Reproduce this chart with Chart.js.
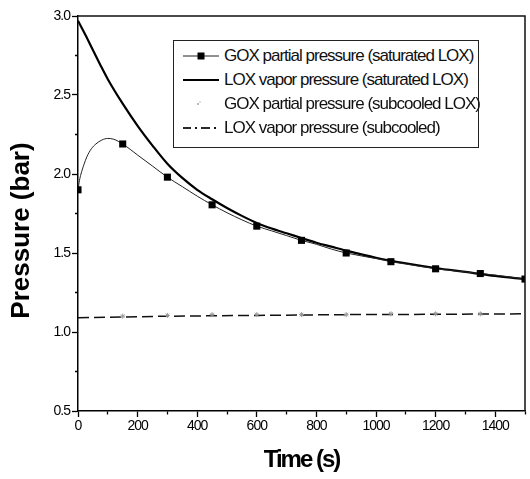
<!DOCTYPE html>
<html><head><meta charset="utf-8">
<script src="https://cdn.jsdelivr.net/npm/chart.js@4/dist/chart.umd.min.js"></script>
<style>
html,body{margin:0;padding:0;background:#fff;}
#wrap{position:relative;width:530px;height:479px;}
#c{position:absolute;left:0;top:0;}
#legend{position:absolute;left:173px;top:40px;width:306px;height:108px;border:1px solid #222;box-sizing:border-box;background:#fff;
 font-family:'Liberation Sans',Arial,sans-serif;font-size:17px;letter-spacing:-1px;color:#111;}
.row{position:absolute;left:0;height:24px;width:300px;}
.row svg{position:absolute;left:8px;top:0;}
.row span{position:absolute;left:50px;top:2px;white-space:nowrap;line-height:20px;}
</style>
</head><body>
<div id="wrap">
<canvas id="c" width="530" height="479"></canvas>
<div id="legend"></div>
</div>
<script>
// ---- data ----
const loxSatTime = [0,25,50,75,100,150,200,250,300,350,400,450,500,550,600,650,700,750,800,850,900,1000,1100,1200,1300,1400,1500];
const loxSat     = [2.97,2.88,2.785,2.69,2.60,2.445,2.305,2.18,2.065,1.975,1.90,1.84,1.785,1.735,1.69,1.655,1.625,1.595,1.565,1.54,1.515,1.47,1.435,1.405,1.38,1.355,1.335];
const goxSatTime = [0,5,10,20,30,45,60,80,100,120,150,200,250,300,350,400,450,500,550,600,650,700,750,800,850,900,1000,1050,1100,1200,1300,1350,1400,1500];
const goxSat     = [1.90,1.96,2.00,2.06,2.11,2.16,2.19,2.215,2.225,2.22,2.19,2.12,2.05,1.98,1.92,1.86,1.805,1.755,1.71,1.67,1.64,1.61,1.58,1.555,1.525,1.50,1.465,1.445,1.43,1.40,1.38,1.37,1.36,1.335];
const goxMarkerTimes = [0,150,300,450,600,750,900,1050,1200,1350,1500];
const goxSubTime = [150,300,450,600,750,900,1050,1200,1350];
const goxSub     = [1.10,1.105,1.11,1.11,1.11,1.11,1.115,1.115,1.115];
const loxSubTime = [0,300,600,900,1200,1500];
const loxSub     = [1.09,1.10,1.105,1.11,1.112,1.115];
const seriesNames = ['GOX partial pressure (saturated LOX)','LOX vapor pressure (saturated LOX)','GOX partial pressure (subcooled LOX)','LOX vapor pressure (subcooled)'];
const xTickLabels = [0,200,400,600,800,1000,1200,1400];
const yTickLabels = [0.5,1.0,1.5,2.0,2.5,3.0];

const xy = (t, v) => t.map((x, i) => ({x, y: v[i]}));
const FONT = "'Liberation Sans',Arial,sans-serif";

const framePlugin = {
  id: 'frame',
  beforeDraw(chart) {
    chart.ctx.letterSpacing = '-1px';
    Object.values(chart.scales).forEach(s => {
      if (s._patchedTitle) return;
      const orig = s.drawTitle.bind(s);
      s.drawTitle = function () {
        const c = this.ctx, prev = c.letterSpacing;
        c.save();
        if (this.axis === 'x') { c.letterSpacing = '-2px'; }
        else { c.letterSpacing = '0px'; c.translate(0, 17); }
        orig();
        c.restore();
        c.letterSpacing = prev;
      };
      s._patchedTitle = true;
    });
  },
  afterDraw(chart) {
    const {ctx, chartArea: a} = chart;
    ctx.save();
    ctx.strokeStyle = '#111';
    ctx.lineWidth = 1.5;
    ctx.beginPath();
    ctx.moveTo(a.left, a.top); ctx.lineTo(a.right, a.top); ctx.lineTo(a.right, a.bottom);
    ctx.stroke();
    ctx.restore();
  }
};

const isMajorX = v => xTickLabels.some(t => Math.abs(t - v) < 1e-6);
const isMajorY = v => yTickLabels.some(t => Math.abs(t - v) < 1e-6);

new Chart(document.getElementById('c'), {
  type: 'line',
  data: {
    datasets: [
      {label: seriesNames[0], data: xy(goxSatTime, goxSat), borderColor: '#222', borderWidth: 1,
       cubicInterpolationMode: 'monotone', pointStyle: 'rect',
       pointRadius: c => (c.raw && goxMarkerTimes.includes(c.raw.x)) ? 5 : 0,
       pointBackgroundColor: '#000', pointBorderColor: '#000', pointBorderWidth: 0},
      {label: seriesNames[1], data: xy(loxSatTime, loxSat), borderColor: '#000', borderWidth: 2.2,
       cubicInterpolationMode: 'monotone', pointRadius: 0},
      {label: seriesNames[2], data: xy(goxSubTime, goxSub), showLine: false, pointStyle: 'star',
       pointRadius: 2.5, borderColor: '#999', pointBorderColor: '#999', pointBorderWidth: 1},
      {label: seriesNames[3], data: xy(loxSubTime, loxSub), borderColor: '#111', borderWidth: 1.5,
       borderDash: [11, 5], pointRadius: 0}
    ]
  },
  options: {
    responsive: false, animation: false,
    layout: {padding: {top: 16, right: 1, left: 0, bottom: 0}},
    plugins: {legend: {display: false}, tooltip: {enabled: false}},
    scales: {
      x: {
        type: 'linear', min: 0, max: 1500,
        afterFit: s => { s.height = 68; },
        ticks: {stepSize: 100, autoSkip: false, maxRotation: 0, padding: 1, color: '#000',
                font: {family: FONT, size: 14},
                callback: v => isMajorX(v) ? String(v) : ''},
        grid: {drawOnChartArea: false, tickLength: 6, tickColor: '#000', tickWidth: 1.3,
               tickBorderDash: c => isMajorX(c.tick.value) ? [] : [3, 20]},
        border: {color: '#000', width: 1.5},
        title: {display: true, text: 'Time (s)', color: '#000',
                font: {family: FONT, size: 24, weight: 'bold'}, padding: {top: 0, bottom: 4}}
      },
      y: {
        min: 0.5, max: 3.0,
        afterFit: s => { s.width = 78; },
        ticks: {stepSize: 0.25, autoSkip: false, padding: 2, color: '#000',
                font: {family: FONT, size: 14},
                callback: v => isMajorY(v) ? v.toFixed(1) : ''},
        grid: {drawOnChartArea: false, tickLength: 6, tickColor: '#000', tickWidth: 1.3,
               tickBorderDash: c => isMajorY(c.tick.value) ? [] : [0, 3, 3, 20]},
        border: {color: '#000', width: 1.5},
        title: {display: true, text: 'Pressure (bar)', color: '#000',
                font: {family: FONT, size: 26, weight: 'bold'}, padding: {top: 6, bottom: 0}}
      }
    }
  },
  plugins: [framePlugin]
});

// ---- legend ----
const samples = [
  '<line x1="1" y1="12" x2="37" y2="12" stroke="#222" stroke-width="1"/><rect x="15.5" y="8.5" width="7" height="7" fill="#000"/>',
  '<line x1="1" y1="12" x2="37" y2="12" stroke="#000" stroke-width="2.2"/>',
  '<circle cx="16" cy="12" r="0.9" fill="#999"/><circle cx="18" cy="10" r="0.7" fill="#aaa"/>',
  '<line x1="1" y1="12" x2="9" y2="12" stroke="#111" stroke-width="1.8"/><line x1="13" y1="12" x2="15" y2="12" stroke="#111" stroke-width="1.8"/><line x1="19" y1="12" x2="28" y2="12" stroke="#111" stroke-width="1.8"/><line x1="32" y1="12" x2="34" y2="12" stroke="#111" stroke-width="1.8"/>'
];
const leg = document.getElementById('legend');
seriesNames.forEach((name, i) => {
  const r = document.createElement('div');
  r.className = 'row';
  r.style.top = (3 + i * 24) + 'px';
  r.innerHTML = '<svg width="40" height="24">' + samples[i] + '</svg><span>' + name + '</span>';
  leg.appendChild(r);
});
</script>
</body></html>
